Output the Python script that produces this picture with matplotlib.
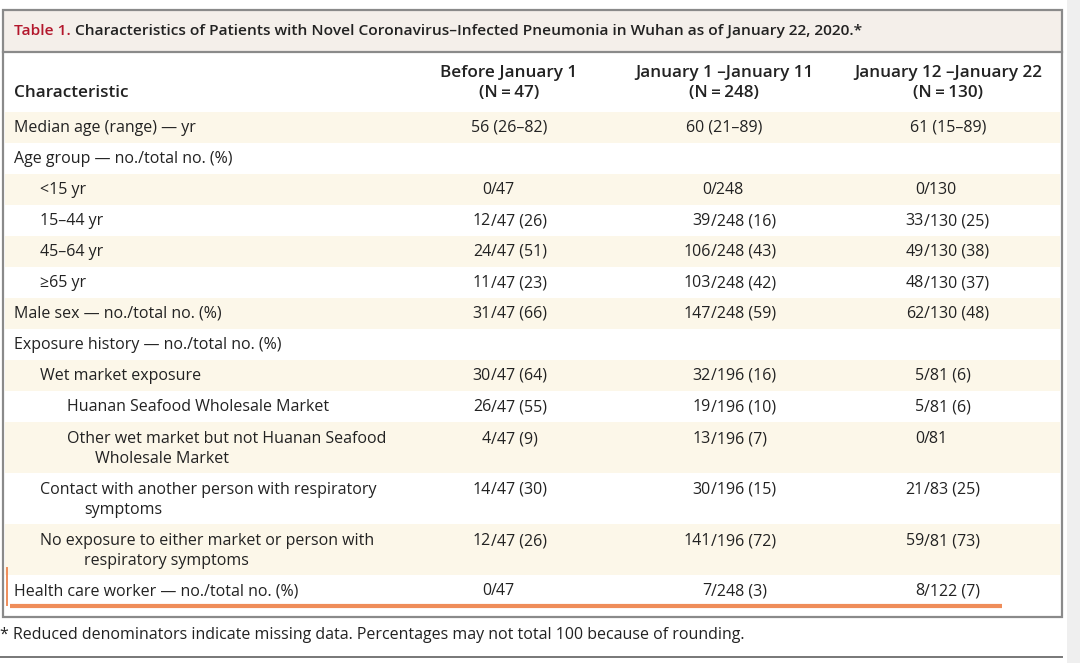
import matplotlib
matplotlib.use("Agg")
import matplotlib.pyplot as plt
from matplotlib.patches import Rectangle

W, H = 1080, 663
FONT = "Open Sans"

# --- table content ---
title_tag = "Table 1."
title_text = " Characteristics of Patients with Novel Coronavirus\u2013Infected Pneumonia in Wuhan as of January 22, 2020.*"
col_heads = ["Before January 1", "January 1 \u2013January 11", "January 12 \u2013January 22"]
col_ns = ["(N\u2009=\u200947)", "(N\u2009=\u2009248)", "(N\u2009=\u2009130)"]

labels = [
    ["Median age (range) \u2014 yr"],
    ["Age group \u2014 no./total no. (%)"],
    ["<15 yr"],
    ["15\u201344 yr"],
    ["45\u201364 yr"],
    ["\u226565 yr"],
    ["Male sex \u2014 no./total no. (%)"],
    ["Exposure history \u2014 no./total no. (%)"],
    ["Wet market exposure"],
    ["Huanan Seafood Wholesale Market"],
    ["Other wet market but not Huanan Seafood", "Wholesale Market"],
    ["Contact with another person with respiratory", "symptoms"],
    ["No exposure to either market or person with", "respiratory symptoms"],
    ["Health care worker \u2014 no./total no. (%)"],
]
levels = [0, 0, 1, 1, 1, 1, 0, 0, 1, 2, 2, 1, 1, 0]

before_jan1 = ["56 (26\u201382)", "", "0/47", "12/47 (26)", "24/47 (51)", "11/47 (23)",
               "31/47 (66)", "", "30/47 (64)", "26/47 (55)", "4/47 (9)", "14/47 (30)",
               "12/47 (26)", "0/47"]
jan1_jan11 = ["60 (21\u201389)", "", "0/248", "39/248 (16)", "106/248 (43)", "103/248 (42)",
              "147/248 (59)", "", "32/196 (16)", "19/196 (10)", "13/196 (7)", "30/196 (15)",
              "141/196 (72)", "7/248 (3)"]
jan12_jan22 = ["61 (15\u201389)", "", "0/130", "33/130 (25)", "49/130 (38)", "48/130 (37)",
               "62/130 (48)", "", "5/81 (6)", "5/81 (6)", "0/81", "21/83 (25)",
               "59/81 (73)", "8/122 (7)"]
footnote = "* Reduced denominators indicate missing data. Percentages may not total 100 because of rounding."

# --- layout (pixels) ---
TXT = "#222222"
SHADE = "#fcf7e9"
BAND = "#f4efea"
EDGE = "#8a8a8a"
ORANGE = "#ef8d5a"
col_centers = [509, 724, 948]
slash_x = [491, 711, 924]
indent = [14, 40, 67]
cont_indent = [0, 84, 95]

fig = plt.figure(figsize=(W / 100, H / 100), dpi=100)
ax = fig.add_axes([0, 0, 1, 1])
ax.set_xlim(0, W)
ax.set_ylim(H, 0)
ax.axis("off")
renderer = fig.canvas.get_renderer()


def fit_size(s, target_px, weight):
    # pick the font size so the string spans roughly the same width as in the scan
    t = ax.text(0, 0, s, fontsize=10, family=FONT, fontweight=weight)
    w = t.get_window_extent(renderer).width
    t.remove()
    return 10 * target_px / w


FS = fit_size(footnote, 748, "normal")
FS_TITLE = fit_size(title_tag + title_text, 848, "semibold")
FS_HEAD = fit_size(col_heads[0], 137, "semibold")

# scrollbar strip on the right
ax.add_patch(Rectangle((1067, 0), 13, H, facecolor="#efefef", edgecolor="none"))

# title band
ax.add_patch(Rectangle((3, 10), 1059, 42, facecolor=BAND, edgecolor="none"))
t = ax.text(14, 31, title_tag, color="#b3172c", fontsize=FS_TITLE, fontweight="semibold",
            family=FONT, va="center", ha="left")
x_after = t.get_window_extent(renderer).x1
ax.annotate(title_text, xy=(x_after, H - 31), xycoords="figure pixels", color=TXT,
            fontsize=FS_TITLE, fontweight="semibold", family=FONT, va="center", ha="left")

# header
for c, head, n in zip(col_centers, col_heads, col_ns):
    ax.text(c, 73, head, ha="center", va="center", fontsize=FS_HEAD, fontweight="semibold",
            family=FONT, color=TXT)
    ax.text(c, 93, n, ha="center", va="center", fontsize=FS_HEAD, fontweight="semibold",
            family=FONT, color=TXT)
ax.text(14, 93, "Characteristic", ha="left", va="center", fontsize=FS_HEAD,
        fontweight="semibold", family=FONT, color=TXT)

# body rows
y = 112
for i, lab in enumerate(labels):
    h = 31 if len(lab) == 1 else 51
    if i % 2 == 0:
        ax.add_patch(Rectangle((5, y), 1055, h, facecolor=SHADE, edgecolor="none"))
    y1 = y + 16 if len(lab) == 1 else y + 17
    ax.text(indent[levels[i]], y1, lab[0], ha="left", va="center", fontsize=FS,
            family=FONT, color=TXT)
    if len(lab) > 1:
        ax.text(cont_indent[levels[i]], y1 + 20, lab[1], ha="left", va="center",
                fontsize=FS, family=FONT, color=TXT)
    for k, col in enumerate([before_jan1, jan1_jan11, jan12_jan22]):
        v = col[i]
        if not v:
            continue
        if "/" in v:
            num, rest = v.split("/", 1)
            ax.text(slash_x[k], y1, num, ha="right", va="center", fontsize=FS,
                    family=FONT, color=TXT)
            ax.text(slash_x[k], y1, "/" + rest, ha="left", va="center", fontsize=FS,
                    family=FONT, color=TXT)
        else:
            ax.text(col_centers[k], y1, v, ha="center", va="center", fontsize=FS,
                    family=FONT, color=TXT)
    y += h

# orange highlight marks
ax.plot([10, 1002], [606, 606], color=ORANGE, lw=3, solid_capstyle="butt")
ax.plot([7, 7], [568, 605], color=ORANGE, lw=1.4)

# frame
ax.add_patch(Rectangle((3, 10), 1059, 607, facecolor="none", edgecolor=EDGE, lw=1.6))
ax.plot([3, 1062], [52, 52], color=EDGE, lw=1.6)

# footnote
ax.text(0, 635, footnote, ha="left", va="center", fontsize=FS, family=FONT, color=TXT)
ax.plot([0, 1062], [657, 657], color="#777777", lw=1.4)

fig.savefig("out.png", dpi=100)
